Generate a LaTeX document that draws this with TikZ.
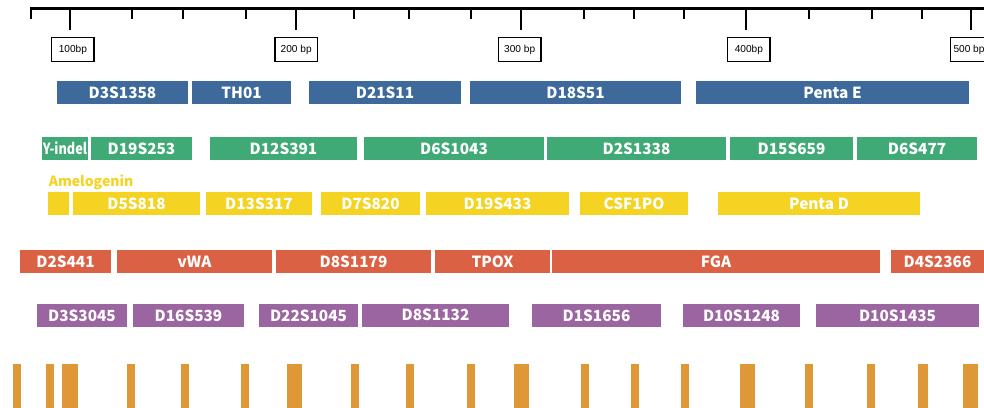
\documentclass[tikz,border=0pt]{standalone}
\usepackage{fontspec}
\setmainfont{Liberation Sans}
\newfontfamily\labfont{Noto Sans CJK KR}
\definecolor{cblue}{HTML}{3D6A9A}
\definecolor{cgreen}{HTML}{3FAA76}
\definecolor{cyellow}{HTML}{F4D322}
\definecolor{cred}{HTML}{DB6144}
\definecolor{cpurple}{HTML}{9B65A2}
\definecolor{corange}{HTML}{DE9838}
\tikzset{
  lbx/.style={inner sep=0pt, outer sep=0pt, text=white, font=\labfont\bfseries\fontsize{11.5}{12}\selectfont},
  tickbox/.style={draw=black, line width=0.9pt, fill=white, inner sep=0pt, outer sep=0pt, font=\fontsize{7.6}{8}\selectfont},
  minortick/.style={line width=1.6pt},
  majortick/.style={line width=2.1pt},
  peak/.style={fill=corange, draw=none},
}
% name, x1, x2, y1, y2, style/colour, text
\newcommand\lbox[7]{%
  \node[#6, minimum width={(#3-#2)*0.75pt}, minimum height={(#5-#4)*0.75pt}] (#1) at ({(#2+#3)/2},{(#4+#5)/2}) {#7};}
\begin{document}
\begin{tikzpicture}[x=0.75pt, y=-0.75pt]
\useasboundingbox (0,0) rectangle (984,407);
\clip (0,0) rectangle (984,407);
% axis
\coordinate (axL) at (30,8.5);
\coordinate (axR) at (990,8.5);
\draw[line width=2.5pt] (axL) -- (axR);
\foreach \x in {31,132,183,246,354,409,471,584,634,684,809,872,922}{
  \draw[minortick] (\x,8) -- (\x,19);}
\foreach \x in {70,296,521,746,971}{
  \draw[majortick] (\x,8) -- (\x,30);}
% tick labels
\lbox{t100}{51.7}{94}{37.7}{61.7}{tickbox}{100bp}
\lbox{t200}{275}{317.3}{37.7}{61.7}{tickbox}{200 bp}
\lbox{t300}{498.3}{541}{37.7}{61.7}{tickbox}{300 bp}
\lbox{t400}{727.7}{770}{37.7}{61.7}{tickbox}{400bp}
\lbox{t500}{950.3}{993}{37.7}{61.7}{tickbox}{\hspace*{-4pt}500 bp}
% blue row
\lbox{b1}{57}{188}{81}{104}{lbx,fill=cblue}{D3S1358}
\lbox{b2}{192}{291}{81}{104}{lbx,fill=cblue}{TH01}
\lbox{b3}{309}{461}{81}{104}{lbx,fill=cblue}{D21S11}
\lbox{b4}{470}{681}{81}{104}{lbx,fill=cblue}{D18S51}
\lbox{b5}{696}{969}{81}{104}{lbx,fill=cblue}{Penta E}
% green row
\lbox{g1}{42}{88}{137}{160}{lbx,fill=cgreen}{\scalebox{0.83}[1]{Y-indel}}
\lbox{g2}{91}{192}{137}{160}{lbx,fill=cgreen}{D19S253}
\lbox{g3}{210}{357}{137}{160}{lbx,fill=cgreen}{D12S391}
\lbox{g4}{364}{544}{137}{160}{lbx,fill=cgreen}{D6S1043}
\lbox{g5}{547}{726}{137}{160}{lbx,fill=cgreen}{D2S1338}
\lbox{g6}{730}{853}{137}{160}{lbx,fill=cgreen}{D15S659}
\lbox{g7}{857}{977}{137}{160}{lbx,fill=cgreen}{D6S477}
% yellow row
\node[anchor=base west, inner sep=0pt, text=cyellow, font=\labfont\bfseries\fontsize{10.5}{11}\selectfont] (amel) at (48.5,186.7) {Amelogenin};
\lbox{y0}{48}{69}{192}{215}{lbx,fill=cyellow}{}
\lbox{y1}{73}{200}{192}{215}{lbx,fill=cyellow}{D5S818}
\lbox{y2}{206}{312}{192}{215}{lbx,fill=cyellow}{D13S317}
\lbox{y3}{321}{420}{192}{215}{lbx,fill=cyellow}{D7S820}
\lbox{y4}{426}{569}{192}{215}{lbx,fill=cyellow}{D19S433}
\lbox{y5}{580}{688}{192}{215}{lbx,fill=cyellow}{CSF1PO}
\lbox{y6}{718}{920}{192}{215}{lbx,fill=cyellow}{Penta D}
% red row
\lbox{r1}{20}{111}{250}{273}{lbx,fill=cred}{D2S441}
\lbox{r2}{117}{272}{250}{273}{lbx,fill=cred}{vWA}
\lbox{r3}{276}{431}{250}{273}{lbx,fill=cred}{D8S1179}
\lbox{r4}{435}{550}{250}{273}{lbx,fill=cred}{TPOX}
\lbox{r5}{552}{880}{250}{273}{lbx,fill=cred}{FGA}
\lbox{r6}{891}{984}{250}{273}{lbx,fill=cred}{D4S2366}
% purple row
\lbox{p1}{37}{127}{304}{327}{lbx,fill=cpurple}{D3S3045}
\lbox{p2}{133}{244}{304}{327}{lbx,fill=cpurple}{D16S539}
\lbox{p3}{259}{358}{304}{327}{lbx,fill=cpurple}{D22S1045}
\lbox{p4}{362}{509}{304}{327}{lbx,fill=cpurple}{\raisebox{1pt}{D8S1132}}
\lbox{p5}{532}{661}{304}{327}{lbx,fill=cpurple}{D1S1656}
\lbox{p6}{683}{800}{304}{327}{lbx,fill=cpurple}{D10S1248}
\lbox{p7}{816}{979}{304}{327}{lbx,fill=cpurple}{D10S1435}
% orange peaks
\foreach \a/\b in {13/20.7, 46/53.7, 62.3/78, 127/134.7, 180.7/188.7, 240.7/248.7, 287/302.3, 351/358.7, 406/414, 467/474.7, 514/529.3, 581/588.7, 631.3/639.3, 680.7/688.7, 740/755.3, 805.3/813, 866.7/874.7, 918/928, 963/978.3}{
  \fill[peak] (\a,364) rectangle (\b,408);}
\end{tikzpicture}
\end{document}
